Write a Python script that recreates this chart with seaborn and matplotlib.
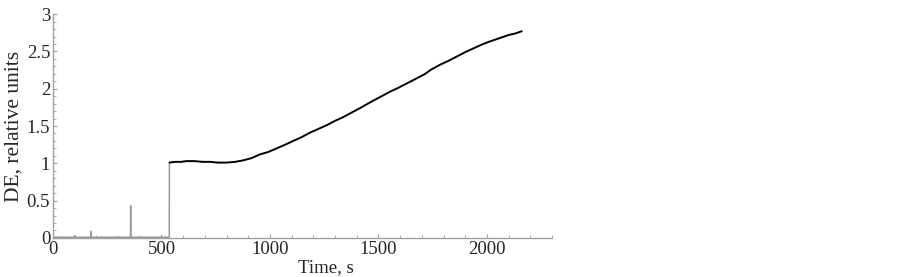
import matplotlib
matplotlib.use("Agg")
import matplotlib.pyplot as plt
from matplotlib.ticker import MultipleLocator
import seaborn as sns

# Baseline / pre-signal trace (gray)
base_t = [0, 99, 100, 101, 174, 175, 176, 357, 358, 359, 536, 536.5]
base_v = [0.01, 0.01, 0.03, 0.01, 0.01, 0.09, 0.01, 0.01, 0.43, 0.01, 0.01, 1.0]

# DE signal after switch-on (black)
sig_t = [537, 560, 590, 616, 650, 690, 723, 760, 800, 840, 877, 915, 954, 990,
         1031, 1070, 1107, 1145, 1184, 1222, 1261, 1300, 1338, 1376, 1415, 1445,
         1476, 1515, 1553, 1590, 1630, 1670, 1710, 1745, 1783, 1820, 1860, 1900,
         1937, 1975, 2010, 2060, 2100, 2130, 2160]
sig_v = [1.01, 1.02, 1.02, 1.03, 1.03, 1.02, 1.02, 1.01, 1.01, 1.02, 1.04, 1.07, 1.12, 1.15,
         1.20, 1.25, 1.30, 1.35, 1.41, 1.46, 1.51, 1.57, 1.62, 1.68, 1.74, 1.79,
         1.84, 1.90, 1.96, 2.01, 2.07, 2.13, 2.19, 2.26, 2.32, 2.37, 2.43, 2.49,
         2.54, 2.59, 2.63, 2.68, 2.72, 2.74, 2.77]

sns.set_style("white")
plt.rcParams['font.family'] = ['Liberation Serif', 'DejaVu Serif']

fig = plt.figure(figsize=(9.03, 2.77), dpi=100)
ax = fig.add_axes([0.0587, 0.141, 0.5526, 0.808])

sns.lineplot(x=base_t, y=base_v, ax=ax, color="#9a9a9a", lw=1.1,
             estimator=None, sort=False)
sns.lineplot(x=sig_t, y=sig_v, ax=ax, color="black", lw=1.4,
             estimator=None, sort=False)

ax.set_xlim(0, 2300)
ax.set_ylim(0, 3)
ax.xaxis.set_major_locator(MultipleLocator(500))
ax.xaxis.set_minor_locator(MultipleLocator(100))
ax.yaxis.set_major_locator(MultipleLocator(0.5))
ax.yaxis.set_minor_locator(MultipleLocator(0.1))
ax.yaxis.set_major_formatter(plt.FuncFormatter(lambda v, p: f"{v:g}"))

for s in ["top", "right"]:
    ax.spines[s].set_visible(False)
for s in ["left", "bottom"]:
    ax.spines[s].set_color("#a0a0a0")
    ax.spines[s].set_linewidth(1.0)

ax.tick_params(which="major", direction="in", length=3, width=0.8, color="#a0a0a0",
               labelsize=13.5, pad=2, bottom=True, left=True)
ax.tick_params(which="minor", direction="in", length=2, width=0.6, color="#a0a0a0",
               bottom=True, left=True)

ax.set_xlabel("Time, s", fontsize=13.5, labelpad=0)
ax.xaxis.set_label_coords(0.547, -0.095)
ax.set_ylabel("DE, relative units", fontsize=15.5, labelpad=2)

fig.savefig("out.png", dpi=100)
